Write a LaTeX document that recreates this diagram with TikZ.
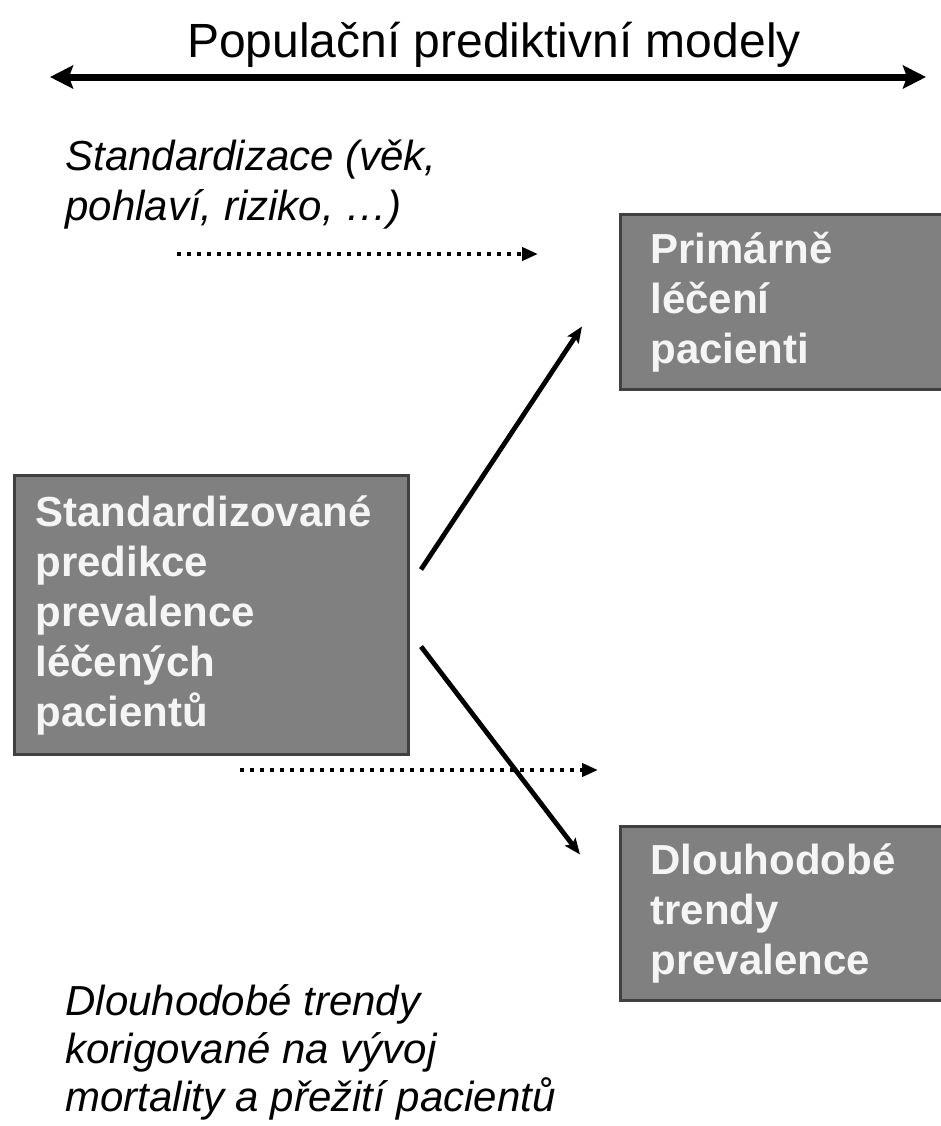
\documentclass[tikz,border=0pt]{standalone}
\usepackage{fontspec}
\setmainfont{Liberation Sans}
\usepackage{tikz}
\usetikzlibrary{positioning, arrows.meta, calc}
\definecolor{BoxFill}{RGB}{128,128,128}
\definecolor{BoxLine}{RGB}{64,64,64}
\definecolor{BoxText}{RGB}{245,245,245}

\begin{document}
\begin{tikzpicture}[x=0.5pt, y=-0.5pt,
    box/.style={draw=BoxLine, line width=1.5pt, fill=BoxFill, text=BoxText,
      anchor=north west, inner xsep=10pt, align=left,
      font=\fontsize{21}{25}\selectfont\bfseries},
    note/.style={anchor=north west, inner sep=0pt, align=left,
      font=\fontsize{21}{25}\selectfont\itshape},
    arr/.style={-{Stealth[length=8pt, width=6.5pt, inset=1.5pt]}, line width=2.4pt},
    dotarr/.style={-{Triangle[length=8pt, width=6.5pt]}, line width=2pt,
      dash pattern=on 2pt off 3pt}]
  \clip (0,0) rectangle (941,1126);
  \fill[white] (0,0) rectangle (941,1126);

  % title and range arrow
  \node[font=\fontsize{24}{29}\selectfont, anchor=base] (title) at (494,57) {Populační prediktivní modely};
  \coordinate (rl) at (50,77);
  \coordinate (rr) at (926,77);
  \draw[{Stealth[length=11.5pt, width=11.5pt, inset=2pt]}-{Stealth[length=11.5pt, width=11.5pt, inset=2pt]}, line width=3.5pt] (rl) -- (rr);

  % boxes
  \node[box, minimum width=170pt, minimum height=87.5pt, text width=140pt] (prim) at (619,213)
    {Primárně\\léčení\\pacienti};
  \node[box, minimum width=197pt, minimum height=139.5pt, text width=176pt] (std) at (13,474)
    {Standardizované\\predikce\\prevalence\\léčených\\pacientů};
  \node[box, minimum width=170pt, minimum height=87pt, text width=140pt] (trend) at (619,825)
    {Dlouhodobé\\trendy\\prevalence};

  % notes
  \node[note] (stdnote) at (65,140) {Standardizace (věk,\\pohlaví, riziko, …)};
  \node[note, font=\fontsize{21}{24}\selectfont\itshape] (trendnote) at (65,984)
    {Dlouhodobé trendy\\korigované na vývoj\\mortality a přežití pacientů};

  % connectors
  \draw[arr] ($(std.east)+(11,-45.5)$) -- ($(prim.west)+(-37,24.5)$);
  \draw[arr] ($(std.east)+(11,31.5)$) -- ($(trend.west)+(-39,-59)$);

  \coordinate (d1s) at (177,254);
  \coordinate (d1e) at (538,254);
  \coordinate (d2s) at (240,770);
  \coordinate (d2e) at (598,770);
  \draw[dotarr] (d1s) -- (d1e);
  \draw[dotarr] (d2s) -- (d2e);
\end{tikzpicture}
\end{document}
